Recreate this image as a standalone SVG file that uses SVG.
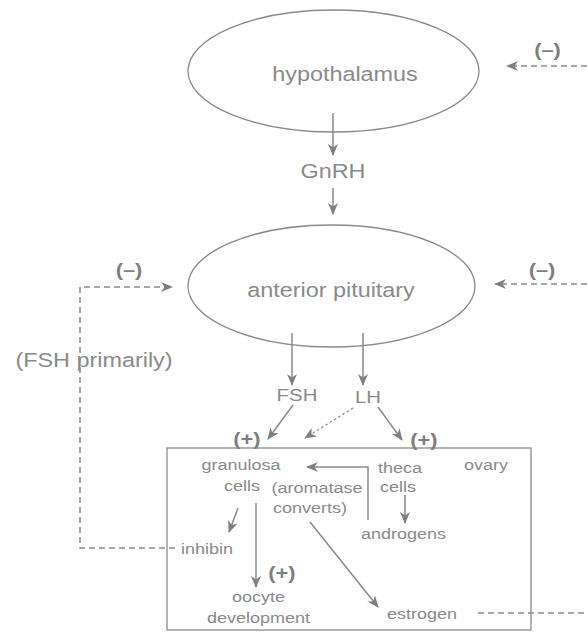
<svg xmlns="http://www.w3.org/2000/svg" width="587" height="633" viewBox="0 0 587 633">
  <style>
    .t { font-family: "Liberation Sans", Arial, sans-serif; fill: #8a8a8a; text-anchor: middle; }
    .big { font-size: 19.5px; }
    .mid { font-size: 17px; }
    .sm { font-size: 15px; }
    .sign { font-size: 19px; font-weight: bold; fill: #7e7e7e; }
    .shape { fill: none; stroke: #8a8a8a; stroke-width: 1.3; }
    .line { fill: none; stroke: #8a8a8a; stroke-width: 1.5; }
    .dash { fill: none; stroke: #8a8a8a; stroke-width: 1.5; stroke-dasharray: 6 4; }
    .dot { fill: none; stroke: #8a8a8a; stroke-width: 1.2; stroke-dasharray: 2.5 2.5; }
  </style>
  <defs>
    <marker id="head" viewBox="0 0 12 10" refX="11" refY="5" markerWidth="12" markerHeight="10" markerUnits="userSpaceOnUse" orient="auto">
      <path d="M0,0 L12,5 L0,10 L3.5,5 z" fill="#808080"/>
    </marker>
  </defs>

  <rect width="587" height="633" fill="#ffffff"/>

  <!-- connectors -->
  <g id="connectors">
    <line class="line" x1="333" y1="113" x2="333" y2="155" marker-end="url(#head)"/>
    <line class="line" x1="333" y1="188" x2="333" y2="214" marker-end="url(#head)"/>
    <line class="line" x1="292" y1="333" x2="292" y2="385" marker-end="url(#head)"/>
    <line class="line" x1="363" y1="333" x2="363" y2="385" marker-end="url(#head)"/>
    <line class="line" x1="293" y1="405" x2="268" y2="439" marker-end="url(#head)"/>
    <line class="dot" x1="353" y1="408" x2="305" y2="438" marker-end="url(#head)"/>
    <line class="line" x1="378" y1="407" x2="402" y2="440" marker-end="url(#head)"/>
    <polyline class="line" points="368,520 368,467 307,467" marker-end="url(#head)"/>
    <line class="line" x1="405" y1="495" x2="405" y2="523" marker-end="url(#head)"/>
    <line class="line" x1="238" y1="508" x2="229" y2="532" marker-end="url(#head)"/>
    <line class="line" x1="256" y1="503" x2="256" y2="587" marker-end="url(#head)"/>
    <line class="line" x1="310" y1="522" x2="378" y2="607" marker-end="url(#head)"/>
    <line class="dash" x1="587" y1="66" x2="507" y2="66" marker-end="url(#head)"/>
    <line class="dash" x1="587" y1="284" x2="495" y2="284" marker-end="url(#head)"/>
    <polyline class="dash" points="175,548 80,548 80,287 172,287" marker-end="url(#head)"/>
    <line class="dash" x1="478" y1="613" x2="587" y2="613"/>
  </g>

  <g id="hypothalamus">
    <ellipse class="shape" cx="333.5" cy="71" rx="145.5" ry="61"/>
    <text class="t big" transform="translate(345 81) scale(1.2 1)">hypothalamus</text>
  </g>

  <g id="gnrh">
    <text class="t big" transform="translate(333 178) scale(1.2 1)">GnRH</text>
  </g>

  <g id="anterior-pituitary">
    <ellipse class="shape" cx="331.5" cy="286" rx="143.5" ry="61"/>
    <text class="t big" transform="translate(331 297) scale(1.2 1)">anterior pituitary</text>
  </g>

  <g id="fsh">
    <text class="t mid" transform="translate(297 401) scale(1.2 1)">FSH</text>
  </g>
  <g id="lh">
    <text class="t mid" transform="translate(368 403) scale(1.2 1)">LH</text>
  </g>

  <g id="fsh-note">
    <text class="t big" transform="translate(94 367) scale(1.2 1)">(FSH primarily)</text>
  </g>

  <g id="ovary">
    <rect class="shape" x="167" y="448" width="364" height="182"/>
    <text class="t sm" transform="translate(486 470) scale(1.2 1)">ovary</text>
  </g>

  <g id="granulosa">
    <text class="t sm" transform="translate(241 470) scale(1.2 1)">granulosa</text>
    <text class="t sm" transform="translate(242 491) scale(1.2 1)">cells</text>
  </g>

  <g id="theca">
    <text class="t sm" transform="translate(400 473) scale(1.2 1)">theca</text>
    <text class="t sm" transform="translate(398 492) scale(1.2 1)">cells</text>
  </g>

  <g id="aromatase">
    <text class="t sm" transform="translate(317 493) scale(1.2 1)">(aromatase</text>
    <text class="t sm" transform="translate(310 513) scale(1.2 1)">converts)</text>
  </g>

  <g id="androgens">
    <text class="t sm" transform="translate(403.5 539) scale(1.2 1)">androgens</text>
  </g>

  <g id="inhibin">
    <text class="t sm" transform="translate(207 554) scale(1.2 1)">inhibin</text>
  </g>

  <g id="oocyte">
    <text class="t sm" transform="translate(258.5 602) scale(1.2 1)">oocyte</text>
    <text class="t sm" transform="translate(258.5 623) scale(1.2 1)">development</text>
  </g>

  <g id="estrogen">
    <text class="t sm" transform="translate(422 619) scale(1.2 1)">estrogen</text>
  </g>

  <g id="signs">
    <text class="t sign" transform="translate(547.5 56) scale(1.15 1)">(–)</text>
    <text class="t sign" transform="translate(129 276) scale(1.15 1)">(–)</text>
    <text class="t sign" transform="translate(542 276) scale(1.15 1)">(–)</text>
    <text class="t sign" transform="translate(247 445) scale(1.15 1)">(+)</text>
    <text class="t sign" transform="translate(424 446) scale(1.15 1)">(+)</text>
    <text class="t sign" transform="translate(282 579) scale(1.15 1)">(+)</text>
  </g>
</svg>
